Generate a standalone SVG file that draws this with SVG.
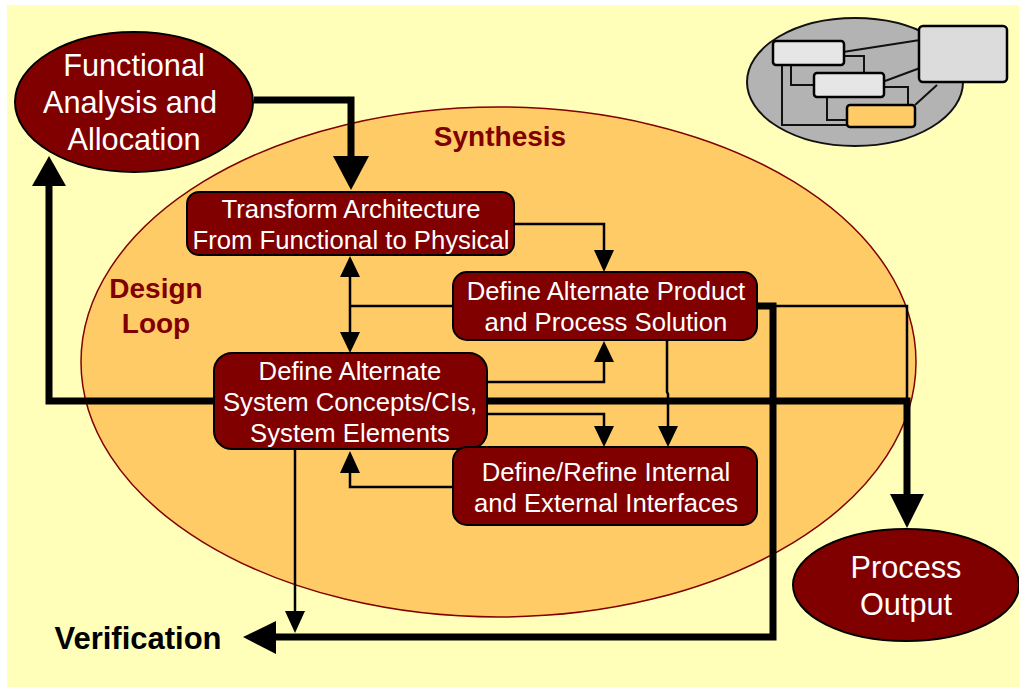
<svg xmlns="http://www.w3.org/2000/svg" width="1019" height="687" viewBox="0 0 1019 687">
<style>
text{font-family:"Liberation Sans",Arial,sans-serif;text-anchor:middle}
.n{fill:#800000;stroke:#000;stroke-width:2}
.w{fill:#fff;font-size:25.7px}
.W{fill:#fff;font-size:30.7px}
.b{fill:#800000;font-size:28px;font-weight:bold}
.t{fill:none;stroke:#000;stroke-width:2.5}
.k{fill:none;stroke:#000;stroke-width:7}
.h{fill:#000}
.m{stroke:#111;stroke-width:2;fill:none}
.r{stroke:#000;stroke-width:2.5}
</style>
<rect x="0" y="0" width="1019" height="687" fill="#fff"/>
<rect x="7" y="5" width="1012" height="682" fill="#ffffb9"/>
<ellipse id="synthesis-ellipse" cx="498.5" cy="362" rx="417.5" ry="255" fill="#ffcb66" stroke="#800000" stroke-width="1.5"/>
<g id="thumbnail">
<ellipse cx="855" cy="82" rx="108" ry="64" fill="#b3b3b3" stroke="#111" stroke-width="2"/>
<path class="m" d="M843 52L920 40M844 56H864V73M791 66V85H814M885 81L920 68M884 87H908V105M827 98V120H847M782 66V125H847M915 105L937 85"/>
<rect class="r" x="773" y="41" width="71" height="24" rx="3" fill="#e6e6e6"/>
<rect class="r" x="814" y="73" width="70" height="24" rx="3" fill="#e6e6e6"/>
<rect class="r" x="847" y="105" width="68" height="22" rx="3" fill="#ffcb66"/>
<rect class="r" x="919" y="26" width="88" height="56" rx="4" fill="#dcdcdc"/>
</g>
<g id="connectors">
<path class="k" d="M254 100H351V160"/>
<path class="h" d="M351 190L333 156H369Z"/>
<path class="t" d="M514 224H604V250"/>
<path class="h" d="M604 272L594 250H614Z"/>
<path class="t" d="M350 276V332M350 306H453"/>
<path class="h" d="M350 256L340 277H360ZM350 353L340 332H360Z"/>
<path class="t" d="M487 382H604V362"/>
<path class="h" d="M604 341L594 362H614Z"/>
<path class="t" d="M667 341V392L668 394V426"/>
<path class="h" d="M668 447L658 426H678Z"/>
<path class="t" d="M487 414H604V426"/>
<path class="h" d="M604 447L594 426H614Z"/>
<path class="t" d="M453 487H350V473"/>
<path class="h" d="M350 451L340 473H360Z"/>
<path class="t" d="M295 450V612"/>
<path class="h" d="M295 633L285 611H305Z"/>
<path class="k" d="M214 401H49V185"/>
<path class="h" d="M49 156L32 186H66Z"/>
<path class="k" d="M487 401H907V495"/>
<path class="h" d="M907 528L890 494H924Z"/>
<path class="t" d="M757 306H907V401"/>
<path class="k" d="M757 306H773V637H275"/>
<path class="h" d="M243 637L276 621V654Z"/>
</g>
<g id="functional-analysis">
<ellipse class="n" cx="134" cy="102" rx="119" ry="70"/>
<text class="W" x="134" y="76">Functional</text>
<text class="W" x="130" y="113">Analysis and</text>
<text class="W" x="134" y="150">Allocation</text>
</g>
<g id="process-output">
<ellipse class="n" cx="906" cy="585" rx="113" ry="56"/>
<text class="W" x="906" y="578">Process</text>
<text class="W" x="906" y="615">Output</text>
</g>
<g id="transform">
<rect class="n" x="187" y="192" width="327" height="63" rx="12"/>
<text class="w" x="351" y="218">Transform Architecture</text>
<text class="w" x="351" y="249">From Functional to Physical</text>
</g>
<g id="alternate-product">
<rect class="n" x="453" y="272" width="304" height="68" rx="14"/>
<text class="w" x="606" y="300">Define Alternate Product</text>
<text class="w" x="606" y="331">and Process Solution</text>
</g>
<g id="alternate-system">
<rect class="n" x="214" y="353" width="273" height="96" rx="18"/>
<text class="w" x="350" y="380">Define Alternate</text>
<text class="w" x="350" y="411">System Concepts/CIs,</text>
<text class="w" x="350" y="442">System Elements</text>
</g>
<g id="interfaces">
<rect class="n" x="453" y="447" width="304" height="78" rx="14"/>
<text class="w" x="606" y="481">Define/Refine Internal</text>
<text class="w" x="606" y="512">and External Interfaces</text>
</g>
<text class="b" x="500" y="146">Synthesis</text>
<text class="b" x="156" y="298">Design</text>
<text class="b" x="156" y="333">Loop</text>
<text x="138" y="649" font-size="31" font-weight="bold" fill="#000">Verification</text>
</svg>
